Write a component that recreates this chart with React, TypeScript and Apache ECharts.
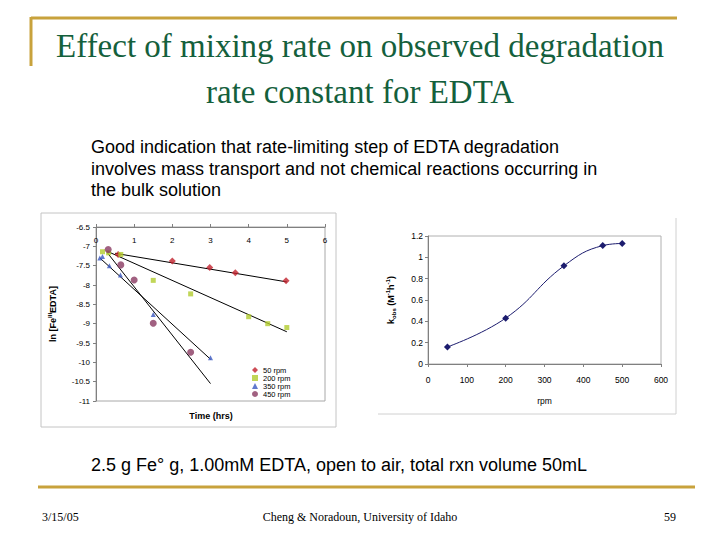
import React, { useEffect, useRef } from "react";
import * as echarts from "echarts";

// ---- Left chart: ln[Fe(III)EDTA] vs time (hrs) ----
const rpm50 = [[0.58, -7.21], [2.0, -7.38], [2.98, -7.55], [3.65, -7.68], [4.98, -7.89]];
const rpm200 = [[0.17, -7.14], [0.33, -7.17], [0.65, -7.21], [1.5, -7.88], [2.48, -8.23], [4.0, -8.82], [4.5, -9.0], [5.0, -9.1]];
const rpm350 = [[0.1, -7.3], [0.17, -7.26], [0.35, -7.5], [0.64, -7.74], [1.5, -8.76], [3.0, -9.88]];
const rpm450 = [[0.32, -7.08], [0.65, -7.48], [1.0, -7.87], [1.5, -8.99], [2.48, -9.74]];
// linear trend lines (end points of fits)
const fit50 = [[0.5, -7.18], [5.0, -7.92]];
const fit200 = [[0.3, -7.13], [5.0, -9.21]];
const fit350 = [[0.1, -7.3], [3.0, -9.92]];
const fit450 = [[0.3, -7.17], [3.0, -10.55]];
const legendNames = ["50 rpm", "200 rpm", "350 rpm", "450 rpm"];

// ---- Right chart: k_obs vs rpm ----
const rpmValues = [50, 200, 350, 450, 500];
const kobsValues = [0.16, 0.43, 0.92, 1.11, 1.13];

// ---- Slide texts ----
const titleLines = ["Effect of mixing rate on observed degradation", "rate constant for EDTA"];
const bodyLines = [
  "Good indication that rate-limiting step of EDTA degradation",
  "involves mass transport and not chemical reactions occurring in",
  "the bulk solution",
];
const captionText = "2.5 g Fe\u00b0 g, 1.00mM EDTA, open to air, total rxn volume 50mL";
const footerLeft = "3/15/05";
const footerCenter = "Cheng & Noradoun, University of Idaho";
const footerRight = "59";

const SANS = '"Liberation Sans", Arial, sans-serif';
const SERIF = '"Liberation Serif", "Times New Roman", serif';
const GOLD = "#c8a23c";
const GREEN = "#14603c";

export default function App() {
  const ref = useRef<HTMLDivElement>(null);
  useEffect(() => {
    if (!ref.current) return;
    const chart = echarts.init(ref.current, undefined, { renderer: "svg" });
    const axisCommon = {
      axisLine: { show: true, lineStyle: { color: "#808080", width: 1 } },
      axisTick: { show: true, length: 3, lineStyle: { color: "#808080" } },
      splitLine: { show: false },
    };
    const option: any = {
      animation: false,
      backgroundColor: "#ffffff",
      textStyle: { fontFamily: SANS },
      grid: [
        { left: 96, top: 227, width: 229, height: 174, show: true, borderColor: "#a8a8a8", borderWidth: 1, backgroundColor: "transparent" },
        { left: 428, top: 236, width: 233, height: 128, show: true, borderColor: "#b0b0b0", borderWidth: 1, backgroundColor: "transparent" },
      ],
      xAxis: [
        {
          gridIndex: 0, type: "value", min: 0, max: 6, interval: 1, position: "top",
          ...axisCommon,
          axisLabel: { inside: true, margin: 9, fontSize: 8, color: "#000", fontFamily: SANS },
        },
        {
          gridIndex: 1, type: "value", min: 0, max: 600, interval: 100,
          ...axisCommon,
          axisLabel: { margin: 11, fontSize: 8.5, color: "#000", fontFamily: SANS },
          name: "rpm", nameLocation: "middle", nameGap: 32,
          nameTextStyle: { fontSize: 8.5, color: "#000", fontFamily: SANS },
        },
      ],
      yAxis: [
        {
          gridIndex: 0, type: "value", min: -11, max: -6.5, interval: 0.5,
          ...axisCommon,
          axisLabel: { margin: 6, fontSize: 8, color: "#000", fontFamily: SANS },
          name: "ln [Fe{sup|III}EDTA]", nameLocation: "middle", nameGap: 37, nameRotate: 90,
          nameTextStyle: {
            fontSize: 9, fontWeight: "bold", color: "#000", fontFamily: SANS, lineHeight: 12,
            rich: { sup: { fontSize: 6, fontWeight: "bold", verticalAlign: "top", lineHeight: 8, fontFamily: SANS, color: "#000" } },
          },
        },
        {
          gridIndex: 1, type: "value", min: 0, max: 1.2, interval: 0.2,
          ...axisCommon,
          axisLabel: { margin: 5, fontSize: 8.5, color: "#000", fontFamily: SANS },
          name: "k{sub|obs} (M{sup|-1}h{sup|-1})", nameLocation: "middle", nameGap: 31, nameRotate: 90,
          nameTextStyle: {
            fontSize: 9, fontWeight: "bold", color: "#000", fontFamily: SANS, lineHeight: 12,
            rich: {
              sup: { fontSize: 6, fontWeight: "bold", verticalAlign: "top", lineHeight: 8, fontFamily: SANS, color: "#000" },
              sub: { fontSize: 6, fontWeight: "bold", verticalAlign: "bottom", lineHeight: 8, fontFamily: SANS, color: "#000" },
            },
          },
        },
      ],
      legend: {
        data: legendNames, orient: "vertical", left: 247, top: 361,
        itemWidth: 6, itemHeight: 6, itemGap: 0,
        textStyle: { fontSize: 7.5, color: "#000", fontFamily: SANS, lineHeight: 7.6 },
      },
      series: [
        { type: "line", data: fit50, xAxisIndex: 0, yAxisIndex: 0, symbol: "none", lineStyle: { color: "#000", width: 1 }, z: 1, silent: true },
        { type: "line", data: fit200, xAxisIndex: 0, yAxisIndex: 0, symbol: "none", lineStyle: { color: "#000", width: 1 }, z: 1, silent: true },
        { type: "line", data: fit350, xAxisIndex: 0, yAxisIndex: 0, symbol: "none", lineStyle: { color: "#000", width: 1 }, z: 1, silent: true },
        { type: "line", data: fit450, xAxisIndex: 0, yAxisIndex: 0, symbol: "none", lineStyle: { color: "#000", width: 1 }, z: 1, silent: true },
        { name: "50 rpm", type: "scatter", data: rpm50, xAxisIndex: 0, yAxisIndex: 0, symbol: "diamond", symbolSize: 7, itemStyle: { color: "#c0202c" }, z: 3 },
        { name: "200 rpm", type: "scatter", data: rpm200, xAxisIndex: 0, yAxisIndex: 0, symbol: "rect", symbolSize: 5, itemStyle: { color: "#b2cc2e" }, z: 3 },
        { name: "350 rpm", type: "scatter", data: rpm350, xAxisIndex: 0, yAxisIndex: 0, symbol: "triangle", symbolSize: 5, itemStyle: { color: "#3a58c0" }, z: 3 },
        { name: "450 rpm", type: "scatter", data: rpm450, xAxisIndex: 0, yAxisIndex: 0, symbol: "circle", symbolSize: 7, itemStyle: { color: "#8a3a62" }, z: 3 },
        {
          name: "kobs", type: "line", xAxisIndex: 1, yAxisIndex: 1,
          data: rpmValues.map((r, i) => [r, kobsValues[i]]),
          smooth: 0.45, symbol: "diamond", symbolSize: 7,
          lineStyle: { color: "#1c1c6e", width: 1 }, itemStyle: { color: "#1c1c6e" },
        },
      ],
      graphic: [
        // left chart frame
        { type: "rect", shape: { x: 41, y: 213, width: 295, height: 214 }, style: { fill: "none", stroke: "#c4c4c4", lineWidth: 1 }, z: -1 },
        // right chart frame (right + bottom edges)
        { type: "polyline", shape: { points: [[676, 218], [676, 414], [378, 414]] }, style: { fill: "none", stroke: "#d0d0d0", lineWidth: 1 }, z: -1 },
        { type: "text", x: 211, y: 416, style: { text: "Time (hrs)", font: `bold 9px ${SANS}`, fill: "#000", align: "center", verticalAlign: "middle" } },
        // gold decorative lines
        { type: "line", shape: { x1: 31, y1: 18, x2: 677, y2: 18 }, style: { stroke: GOLD, lineWidth: 3 } },
        { type: "line", shape: { x1: 31, y1: 17, x2: 31, y2: 66 }, style: { stroke: GOLD, lineWidth: 3 } },
        { type: "line", shape: { x1: 38, y1: 487, x2: 695, y2: 487 }, style: { stroke: GOLD, lineWidth: 3 } },
        // title
        ...titleLines.map((t, i) => ({
          type: "text", x: 360, y: 46 + i * 46,
          style: { text: t, font: `33px ${SERIF}`, fill: GREEN, align: "center", verticalAlign: "middle" },
        })),
        // body
        ...bodyLines.map((t, i) => ({
          type: "text", x: 91, y: 147 + i * 21.5,
          style: { text: t, font: `18px ${SANS}`, fill: "#000", align: "left", verticalAlign: "middle" },
        })),
        { type: "text", x: 91, y: 465, style: { text: captionText, font: `18px ${SANS}`, fill: "#000", align: "left", verticalAlign: "middle" } },
        { type: "text", x: 42, y: 517, style: { text: footerLeft, font: `12px ${SERIF}`, fill: "#000", align: "left", verticalAlign: "middle" } },
        { type: "text", x: 360, y: 517, style: { text: footerCenter, font: `12px ${SERIF}`, fill: "#000", align: "center", verticalAlign: "middle" } },
        { type: "text", x: 676, y: 517, style: { text: footerRight, font: `12px ${SERIF}`, fill: "#000", align: "right", verticalAlign: "middle" } },
      ],
    };
    chart.setOption(option);
    return () => chart.dispose();
  }, []);
  return <div ref={ref} style={{ position: "fixed", left: 0, top: 0, width: 720, height: 540, background: "#fff" }} />;
}
